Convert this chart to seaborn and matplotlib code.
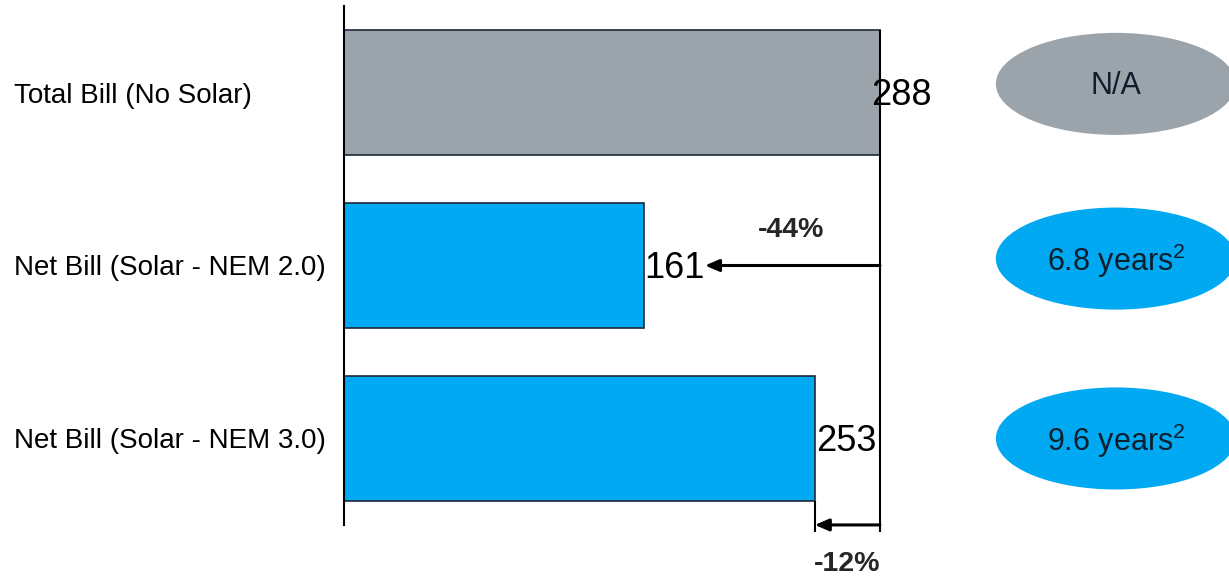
import matplotlib
matplotlib.use("Agg")
import matplotlib.pyplot as plt
from matplotlib.patches import Ellipse
import seaborn as sns
import pandas as pd

categories = ["Total Bill (No Solar)", "Net Bill (Solar - NEM 2.0)", "Net Bill (Solar - NEM 3.0)"]
bills = [288, 161, 253]
payback = ["N/A", "6.8 years$^{2}$", "9.6 years$^{2}$"]
changes = ["-44%", "-12%"]

bar_colors = ["#9ba3ab", "#00a9f1", "#00a9f1"]
oval_colors = ["#9ba3ab", "#00a9f1", "#00a9f1"]

sns.set_theme(style="white")
plt.rcParams["font.family"] = ["Liberation Sans", "DejaVu Sans"]
plt.rcParams["mathtext.fontset"] = "custom"
plt.rcParams["mathtext.rm"] = "Liberation Sans"
plt.rcParams["mathtext.it"] = "Liberation Sans"
plt.rcParams["mathtext.default"] = "regular"

W, H = 1229, 577
fig = plt.figure(figsize=(W / 100, H / 100), dpi=100)
ax = fig.add_axes([344 / W, 0, 1 - 344 / W, 1])

df = pd.DataFrame({"category": categories, "bill": bills})
sns.barplot(data=df, x="bill", y="category", hue="category", palette=bar_colors,
            orient="h", width=0.72, legend=False, ax=ax,
            edgecolor="#1b2a38", linewidth=1.2, saturation=1)

ax.set_xlim(0, 475.6)
ax.set_ylim(2.801, -0.535)
ax.set_xlabel("")
ax.set_ylabel("")
ax.set_xticks([])

for s in ["top", "right", "bottom"]:
    ax.spines[s].set_visible(False)
ax.spines["left"].set_color("black")
ax.spines["left"].set_linewidth(1.5)
ax.spines["left"].set_bounds(-0.5, 2.5)

ax.tick_params(axis="y", length=0, pad=237.6, labelsize=20, labelcolor="black")
for lbl in ax.get_yticklabels():
    lbl.set_ha("left")

# value labels beside the bars
offsets = [-4.5, 0.5, 0.5]
for i, (v, off) in enumerate(zip(bills, offsets)):
    ax.text(v + off, i + 0.02, f"{v}", ha="left", va="center", fontsize=26, color="black")

total = bills[0]
# reference line from the total bill
ax.plot([total, total], [-0.36, 2.54], color="black", lw=1.5, solid_capstyle="butt", clip_on=False)
ax.plot([bills[2], bills[2]], [2.36, 2.54], color="black", lw=1.5, solid_capstyle="butt", clip_on=False)

arrow_style = dict(arrowstyle="-|>,head_length=0.7,head_width=0.3", color="black", lw=2.2,
                   shrinkA=0, shrinkB=0)
ax.annotate("", xy=(194, 1), xytext=(total, 1), arrowprops=arrow_style)
ax.annotate("", xy=(bills[2], 2.5), xytext=(total, 2.5), arrowprops=arrow_style)
ax.text(240.5, 0.795, changes[0], ha="center", va="center", fontsize=20.5, fontweight="bold")
ax.text(270.5, 2.725, changes[1], ha="center", va="center", fontsize=20.5, fontweight="bold")

# payback ovals
oval_y = [-0.05, 0.96, 2.0]
for y, txt, c in zip(oval_y, payback, oval_colors):
    e = Ellipse((414.8, y), width=129, height=0.59, facecolor=c, edgecolor="none", clip_on=False)
    ax.add_patch(e)
    ax.text(414.8, y + 0.015, txt, ha="center", va="center", fontsize=22, color="#0e1e2c")

fig.savefig("out.png", dpi=100)
